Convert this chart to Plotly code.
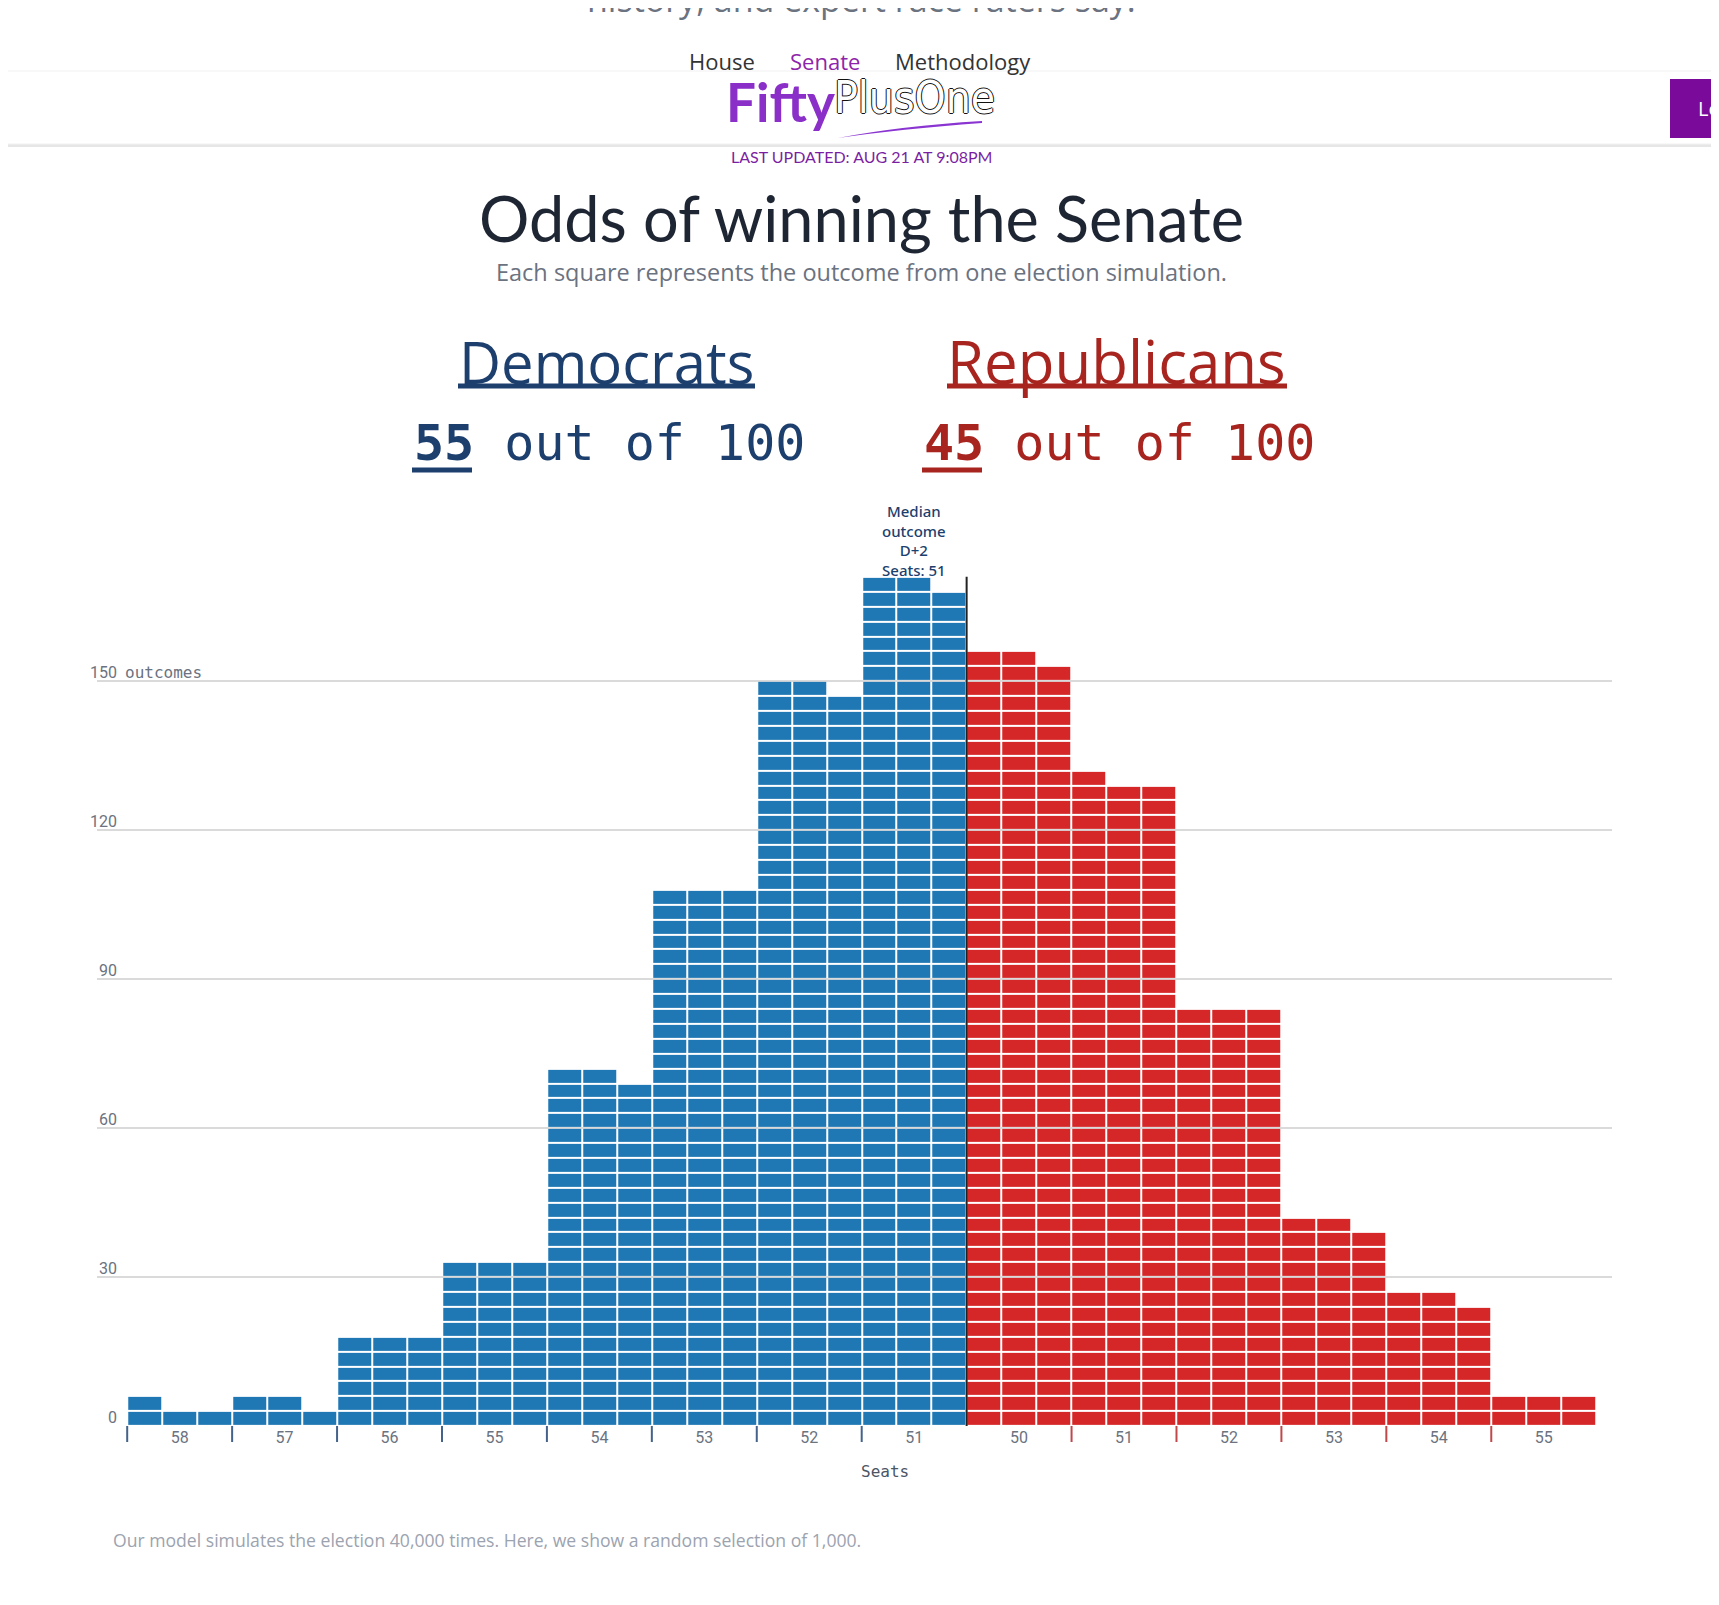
import numpy as np
import plotly.graph_objects as go

# seats won per bin (left: Democratic side, right: Republican side) and how many of the 1,000 sims land there
dem_seats = ["58", "57", "56", "55", "54", "53", "52", "51"]
dem_counts = [4, 5, 18, 33, 71, 108, 149, 170]
rep_seats = ["50", "51", "52", "53", "54", "55"]
rep_counts = [155, 130, 84, 41, 26, 6]

y_ticks = [0, 30, 60, 90, 120, 150]
median_text = "Median<br>outcome<br>D+2<br>Seats: 51"
dem_odds = 55
rep_odds = 45

COLS_PER_BIN = 3
BLUE = "#1f77b4"
RED = "#d62728"
DEM_DARK = "#1c3f6e"
REP_DARK = "#a8241f"
GRAY = "#6b7280"

# page / plot area in pixels (the page body adds an 8px margin, so the figure is pulled in by that much)
W, H = 1719, 1605
OFF = 8
L, R, T, B = 97, 107, 557, 179
PW = W - L - R
PH = H - T - B
col_px = (1596.2 - 127.2) / 42
x_left = -0.5 - (127.2 - L) / col_px
x_right = x_left + PW / col_px


def px(x):
    return (x - L) / PW


def py(y):
    return (H - B - y) / PH


# lay the squares out: each bin is 3 columns wide, filled row by row from the left
counts = dem_counts + rep_counts
party = [0] * len(dem_counts) + [1] * len(rep_counts)
heights = []
col_party = []
for n, p in zip(counts, party):
    full, rest = divmod(n, COLS_PER_BIN)
    for c in range(COLS_PER_BIN):
        heights.append(full + (1 if c < rest else 0))
        col_party.append(p)

n_rows = max(heights)
n_cols = len(heights)
z = np.full((n_rows, n_cols), np.nan)
for c, (h, p) in enumerate(zip(heights, col_party)):
    z[:h, c] = p

fig = go.Figure()
fig.add_trace(go.Heatmap(
    z=z,
    x=np.arange(n_cols),
    y=np.arange(n_rows) * COLS_PER_BIN + COLS_PER_BIN / 2,
    colorscale=[[0, BLUE], [1, RED]],
    zmin=0, zmax=1,
    xgap=2, ygap=2,
    showscale=False,
    hoverinfo="skip",
))

shapes = []
annotations = []

# header strip
shapes.append(dict(type="rect", xref="paper", yref="paper",
                   x0=px(-10), x1=px(W + 10), y0=py(147), y1=py(143),
                   fillcolor="#e6e6e6", line_width=0, layer="below"))
shapes.append(dict(type="rect", xref="paper", yref="paper",
                   x0=px(-10), x1=px(W + 10), y0=py(144), y1=py(71),
                   fillcolor="white", line=dict(color="#f1f1f1", width=1), layer="below"))
shapes.append(dict(type="rect", xref="paper", yref="paper",
                   x0=px(-20), x1=px(3), y0=py(140), y1=py(96),
                   fillcolor="white", line=dict(color="#222", width=1.5), layer="below"))
shapes.append(dict(type="rect", xref="paper", yref="paper",
                   x0=px(1670), x1=px(W + 10), y0=py(138), y1=py(79),
                   fillcolor="#7a0a9a", line_width=0, layer="below"))
shapes.append(dict(type="path", xref="paper", yref="paper",
                   path=f"M {px(838)},{py(138)} Q {px(900)},{py(126)} {px(982)},{py(121)} "
                        f"L {px(982)},{py(123)} Q {px(900)},{py(129)} {px(838)},{py(138)} Z",
                   fillcolor="#8a35d1", line_width=0))

# party underlines
shapes.append(dict(type="line", xref="paper", yref="paper",
                   x0=px(458), x1=px(755), y0=py(386), y1=py(386),
                   line=dict(color=DEM_DARK, width=5)))
shapes.append(dict(type="line", xref="paper", yref="paper",
                   x0=px(947), x1=px(1287), y0=py(386), y1=py(386),
                   line=dict(color=REP_DARK, width=5)))
shapes.append(dict(type="line", xref="paper", yref="paper",
                   x0=px(412), x1=px(472), y0=py(470), y1=py(470),
                   line=dict(color=DEM_DARK, width=5)))
shapes.append(dict(type="line", xref="paper", yref="paper",
                   x0=px(922), x1=px(982), y0=py(470), y1=py(470),
                   line=dict(color=REP_DARK, width=5)))

# bin ticks below the baseline, one at the left edge of each bin
n_dem = len(dem_counts)
for k in range(len(counts)):
    if k == n_dem:
        continue
    xk = k * COLS_PER_BIN - 0.5
    shapes.append(dict(type="line", xref="x", yref="paper",
                       x0=xk, x1=xk, y0=py(1426), y1=py(1442),
                       line=dict(color="#44628a" if k < n_dem else "#c0474a", width=2)))

# median line between the two parties
x_med = n_dem * COLS_PER_BIN - 0.5
shapes.append(dict(type="line", xref="x", yref="y",
                   x0=x_med, x1=x_med, y0=0, y1=n_rows * COLS_PER_BIN,
                   line=dict(color="#222", width=2)))

# median label above the last democratic bin
annotations.append(dict(x=(n_dem - 1) * COLS_PER_BIN + 1, y=n_rows * COLS_PER_BIN,
                        xref="x", yref="y", yanchor="bottom", yshift=-5,
                        text=median_text, showarrow=False, align="center",
                        font=dict(family="Noto Sans", size=15, color=DEM_DARK, weight=500)))

# y labels sit above their gridlines
for v in y_ticks:
    annotations.append(dict(x=px(119), y=v, xref="paper", yref="y",
                            xanchor="right", yanchor="middle", yshift=9,
                            text=str(v), showarrow=False,
                            font=dict(family="Roboto", size=16, color=GRAY)))
annotations.append(dict(x=px(123), y=y_ticks[-1], xref="paper", yref="y",
                        xanchor="left", yanchor="middle", yshift=9,
                        text="outcomes", showarrow=False,
                        font=dict(family="DejaVu Sans Mono", size=16, color=GRAY)))


def text(x, y, s, size, color, family="Open Sans", anchor="center", **kw):
    annotations.append(dict(x=px(x), y=py(y), xref="paper", yref="paper",
                            xanchor=anchor, yanchor="middle", text=s, showarrow=False,
                            font=dict(family=family, size=size, color=color, **kw)))


text(861, -1, "history, and expert race raters say.", 34, GRAY)
text(722, 61, "House", 22, "#333333")
text(825, 61, "Senate", 22, "#8e24aa")
text(963, 61, "Methodology", 22, "#333333")
text(724, 102, "<b>Fifty</b>", 53, "#8b2fc9", family="Lato", anchor="left")
text(832, 98, "PlusOne", 44, "white", family="DejaVu Sans Condensed", anchor="left",
     shadow="1px 0 0 #111, -1px 0 0 #111, 0 1px 0 #111, 0 -1px 0 #111")
text(1696, 108, "Lo", 20, "white", anchor="left")
text(861, 156, "LAST UPDATED: AUG 21 AT 9:08PM", 16, "#7b1fa2", family="Lato")
text(861, 217, "Odds of winning the Senate", 63, "#1e2533", family="Lato")
text(861, 272, "Each square represents the outcome from one election simulation.", 23.5, GRAY)
text(606, 361, "Democrats", 58, DEM_DARK)
text(1116, 361, "Republicans", 60, REP_DARK)
text(412, 443, f"<b>{dem_odds}</b> out of 100", 50, DEM_DARK, family="DejaVu Sans Mono", anchor="left")
text(922, 443, f"<b>{rep_odds}</b> out of 100", 50, REP_DARK, family="DejaVu Sans Mono", anchor="left")
text(885, 1471, "Seats", 16, "#4b5563", family="DejaVu Sans Mono")
text(111, 1540, "Our model simulates the election 40,000 times. Here, we show a random selection of 1,000.",
     17.6, "#9ca3af", anchor="left")

tick_vals = [k * COLS_PER_BIN + 1 for k in range(len(counts))]
fig.update_layout(
    width=W - OFF, height=H - OFF,
    margin=dict(l=L - OFF, r=R, t=T - OFF, b=B),
    paper_bgcolor="white", plot_bgcolor="white",
    showlegend=False,
    shapes=shapes,
    annotations=annotations,
    xaxis=dict(range=[x_left, x_right], tickvals=tick_vals, ticktext=dem_seats + rep_seats,
               ticks="", showgrid=False, zeroline=False, showline=False,
               tickfont=dict(family="Roboto", size=16, color=GRAY)),
    yaxis=dict(range=[0, 175], tickvals=y_ticks, showticklabels=False,
               showgrid=True, gridcolor="#dadada", gridwidth=1.5, zeroline=False),
)

fig.write_html("out.html")
